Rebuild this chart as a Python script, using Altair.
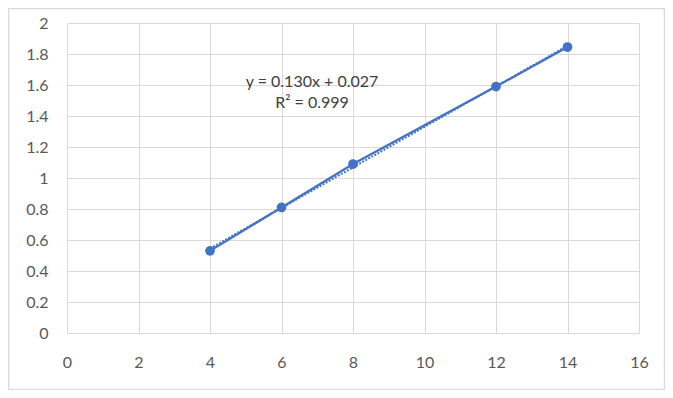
import altair as alt
import pandas as pd

x_vals = [4, 6, 8, 12, 14]
y_vals = [0.53, 0.81, 1.09, 1.59, 1.845]
x_ticks = [0, 2, 4, 6, 8, 10, 12, 14, 16]
y_ticks = [0, 0.2, 0.4, 0.6, 0.8, 1.0, 1.2, 1.4, 1.6, 1.8, 2.0]
eq_lines = ["y = 0.130x + 0.027", "R² = 0.999"]

BLUE = "#4472C4"
GRID = "#d9d9d9"
FONT = "Lato"

df = pd.DataFrame({"x": x_vals, "y": y_vals})

xs = alt.Scale(domain=[0, 16], nice=False, zero=False)
ys = alt.Scale(domain=[0, 2], nice=False, zero=False)

xax = alt.Axis(values=x_ticks, labelPadding=21, title=None, format="d")
yax = alt.Axis(values=y_ticks, labelPadding=19, title=None, format=".1~f")

X = alt.X("x:Q", scale=xs, axis=xax)
Y = alt.Y("y:Q", scale=ys, axis=yax)

base = alt.Chart(df)

line = base.mark_line(color=BLUE, strokeWidth=2.25).encode(x=X, y=Y)

trend = base.transform_regression("x", "y").mark_line(
    color=BLUE, strokeWidth=2, strokeDash=[2, 1.5]
).encode(x=X, y=Y)

pts = base.mark_circle(color=BLUE, size=95, opacity=1).encode(x=X, y=Y)

eq_layers = []
for i, t in enumerate(eq_lines):
    eq_layers.append(
        alt.Chart(pd.DataFrame({"t": [t]})).mark_text(
            font=FONT, fontSize=16, color="#404040",
            align="center", baseline="middle"
        ).encode(text="t:N", x=alt.value(245), y=alt.value(59 + 21 * i))
    )

border = alt.Chart(pd.DataFrame({"a": [0]})).mark_rect(
    fillOpacity=0, stroke=GRID, strokeWidth=1.5
).encode(
    x=alt.value(-58.5), x2=alt.value(597.5),
    y=alt.value(-14.5), y2=alt.value(366.5),
)

chart = alt.layer(border, line, trend, pts, *eq_layers).properties(
    width=572, height=310,
    autosize=alt.AutoSizeParams(type="none"),
    padding={"left": 59, "top": 15, "right": 26, "bottom": 57},
    background="white",
).configure_view(strokeWidth=0).configure_axis(
    grid=True, gridColor=GRID, domain=False, ticks=False,
    labelFont=FONT, labelFontSize=16, labelColor="#595959",
    labelOverlap=False, labelFlush=False,
)

chart.save("out.html", embed_options={"renderer": "svg", "actions": False})
